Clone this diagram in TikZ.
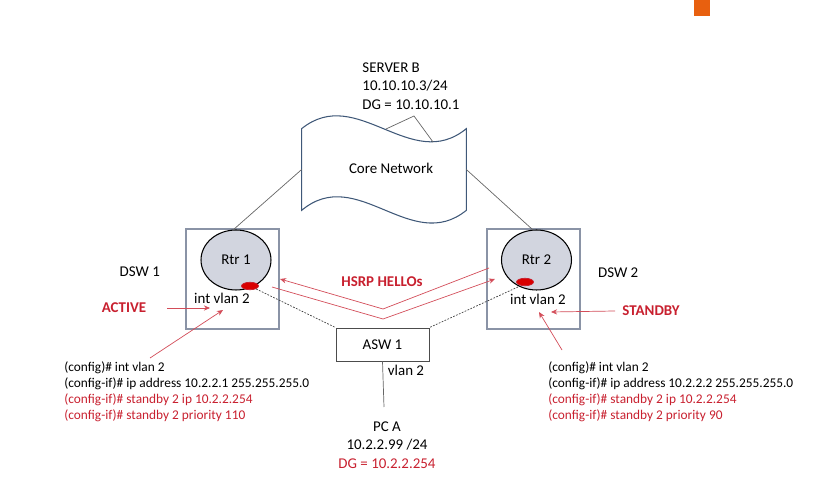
\documentclass[tikz,border=0pt]{standalone}
\usepackage{fontspec}
\setmainfont{Carlito}
\usetikzlibrary{arrows.meta}
\usetikzlibrary{positioning}
\usetikzlibrary{shapes.geometric}
\definecolor{hsrpred}{HTML}{C8202F}
\definecolor{boxgray}{HTML}{8A93A6}
\definecolor{rtrfill}{HTML}{D2D5DF}
\definecolor{tapeblue}{HTML}{3F5878}
\definecolor{tabcolor}{HTML}{E8600F}
\tikzstyle{HSRP_style}=[
	x=0.02cm,y=-0.02cm,font=\fontsize{8.5}{10.5}\selectfont,
	dsw/.style={rectangle,draw=boxgray,line width=0.9pt,minimum width=1.86cm,minimum height=2cm,inner sep=0pt},
	router/.style={ellipse,draw=black,fill=rtrfill,line width=0.6pt,minimum width=1.4cm,minimum height=1.2cm,inner sep=0pt},
	vlan_dot/.style={ellipse,draw=hsrpred,fill=red!85!black,minimum width=0.34cm,minimum height=0.15cm,inner sep=0pt},
	switch/.style={rectangle,draw=black!70,line width=0.5pt,minimum width=1.86cm,minimum height=0.66cm,inner sep=0pt},
	core_net/.style={rectangle,minimum width=3.28cm,minimum height=1.62cm,inner sep=0pt},
	label/.style={inner sep=0pt,align=left},
	config/.style={label,anchor=west,font=\fontsize{7.6}{9.07}\selectfont},
	red_label/.style={label,text=hsrpred,font=\fontsize{8.5}{10.5}\selectfont\bfseries},
	link/.style={draw=black!60,line width=0.4pt},
	dot_link/.style={draw=black!75,line width=0.4pt,dash pattern=on 1pt off 0.8pt},
	red_arrow/.style={draw=hsrpred!80,line width=0.4pt,-{Stealth[length=3.5pt,width=3pt]}}
]

\begin{document}
\begin{tikzpicture}[HSRP_style]
	\useasboundingbox (0,0) rectangle (822,496);
	
	%corner tab
	\fill[tabcolor] (694,0) rectangle (710,16);
	
	%core
	\node[core_net] (core) at (384,169.5) {\hspace*{8pt}\raisebox{1.5pt}{Core Network}};
	\draw[tapeblue,line width=0.6pt] (core.north west) .. controls (357,84) and (411,174) .. (core.north east)
	-- (core.south east) .. controls (411,255) and (357,164) .. (core.south west) -- cycle;
	\node[label] (srv) at (411,86) {SERVER B\\10.10.10.3/24\\DG = 10.10.10.1};
	\coordinate (srv_l) at (386,129);
	\coordinate (srv_t) at (414,116);
	\coordinate (srv_r) at (433,142);
	
	%dsw 1
	\node[dsw] (dsw1) at (232.5,279) {};
	\node[router] (rtr1) at (236,260) {Rtr 1};
	\node[vlan_dot] (dot1) at (250,286) {};
	\node[label] (int1) at (222,298) {int vlan 2};
	\node[label] (dsw1_l) [left=0.5cm of dsw1.west,yshift=0.14cm] {DSW 1};
	\node[red_label] (active) at (124,308) {ACTIVE};
	
	%dsw 2
	\node[dsw] (dsw2) at (533.5,279) {};
	\node[router] (rtr2) at (536.5,260) {Rtr 2};
	\node[vlan_dot] (dot2) at (525,282) {};
	\node[label] (int2) at (538,299) {int vlan 2};
	\node[label] (dsw2_l) [right=0.34cm of dsw2.east,yshift=0.12cm] {DSW 2};
	\node[red_label] (standby) at (651,311) {STANDBY};
	
	%asw
	\node[switch] (asw) at (382.5,344.5) {ASW 1};
	\node[label] (vlan) at (406,370) {vlan 2};
	\coordinate (asw_end) at (384,407);
	\node[label,align=center] (pc) at (387,445) {PC A\\10.2.2.99 /24\\\textcolor{hsrpred}{DG = 10.2.2.254}};
	
	%config text
	\node[config] (cfg1) at (64,392) {(config)\# int vlan 2\\(config-if)\# ip address 10.2.2.1 255.255.255.0\\\textcolor{hsrpred}{(config-if)\# standby 2 ip 10.2.2.254}\\\textcolor{hsrpred}{(config-if)\# standby 2 priority 110}};
	\node[config] (cfg2) at (548,392) {(config)\# int vlan 2\\(config-if)\# ip address 10.2.2.2 255.255.255.0\\\textcolor{hsrpred}{(config-if)\# standby 2 ip 10.2.2.254}\\\textcolor{hsrpred}{(config-if)\# standby 2 priority 90}};
	
	%hellos
	\node[red_label] (hello) at (382,282) {HSRP HELLOs};
	\coordinate (h1_s) at (489,268);
	\coordinate (h1_m) at (383,309);
	\coordinate (h1_e) at (280,279);
	\coordinate (h2_s) at (272,287);
	\coordinate (h2_m) at (383,319);
	\coordinate (h2_e) at (495,279);
	
	%free arrow ends
	\coordinate (act_s) at (167,308);
	\coordinate (act_e) at (210,308);
	\coordinate (cf1_s) at (150,358);
	\coordinate (cf1_e) at (223,310);
	\coordinate (sby_s) at (615,311);
	\coordinate (sby_e) at (551,312);
	\coordinate (cf2_s) at (562,350);
	\coordinate (cf2_e) at (539,312);
	\coordinate (rtr1_t) at (233,230);
	\coordinate (rtr2_t) at (533,230);
	\coordinate (dot2_l) at (518,287);
	
	\path[link] (core.west) -- (rtr1_t)
	(core.east) -- (rtr2_t)
	(srv_l) -- (srv_t) -- (srv_r)
	(asw.south) -- (asw_end);
	
	\path[dot_link] (dot1) -- (asw.north west)
	(dot2_l) -- (asw.north east);
	
	\path[red_arrow] (h1_s) -- (h1_m) -- (h1_e);
	\path[red_arrow] (h2_s) -- (h2_m) -- (h2_e);
	\path[red_arrow] (act_s) -- (act_e);
	\path[red_arrow] (cf1_s) -- (cf1_e);
	\path[red_arrow] (sby_s) -- (sby_e);
	\path[red_arrow] (cf2_s) -- (cf2_e);
	
\end{tikzpicture}
\end{document}
